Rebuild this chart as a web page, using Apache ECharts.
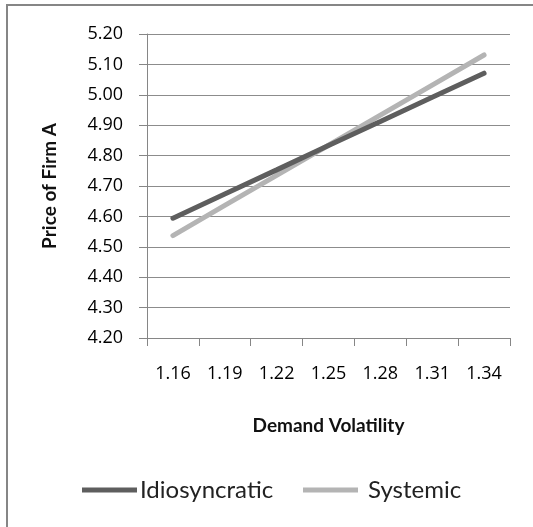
<!DOCTYPE html>
<html>
<head>
<meta charset="utf-8">
<script src="https://cdn.jsdelivr.net/npm/echarts@6/dist/echarts.min.js"></script>
<style>
  html, body { margin: 0; padding: 0; background: #fff; }
  #chart { width: 533px; height: 527px; }
</style>
</head>
<body>
<div id="chart"></div>
<script>
// Demand volatility levels (x categories)
const volatility = ['1.16', '1.19', '1.22', '1.25', '1.28', '1.31', '1.34'];
// Price of firm A under each demand-shock type
const idiosyncratic = [4.594, 4.674, 4.753, 4.833, 4.912, 4.992, 5.071];
const systemic = [4.537, 4.636, 4.735, 4.834, 4.933, 5.032, 5.131];
// Price axis range
const priceMin = 4.2;
const priceMax = 5.2;
const priceStep = 0.1;

const FONT = 'Lato, "Open Sans", sans-serif';
const TICK_FONT = '"Open Sans", Lato, sans-serif';
const chart = echarts.init(document.getElementById('chart'), null, { renderer: 'canvas' });

const legendCommon = {
  top: 478,
  padding: 0,
  itemWidth: 55,
  itemHeight: 5,
  icon: 'rect',
  textStyle: { fontFamily: FONT, fontSize: 24, color: '#222' }
};

chart.setOption({
  backgroundColor: '#fff',
  animation: false,
  graphic: [{
    type: 'rect',
    shape: { x: 7, y: 5, width: 600, height: 600 },
    style: { fill: 'none', stroke: '#868686', lineWidth: 2 },
    silent: true,
    z: 100
  }],
  grid: { left: 147, right: 23, top: 34, bottom: 189, containLabel: false },
  legend: [
    Object.assign({}, legendCommon, {
      left: 82,
      data: ['Idiosyncratic'],
      textStyle: Object.assign({}, legendCommon.textStyle, { padding: [0, 0, 0, -2] })
    }),
    Object.assign({}, legendCommon, {
      left: 303,
      data: ['Systemic'],
      textStyle: Object.assign({}, legendCommon.textStyle, { padding: [0, 0, 0, 5] })
    })
  ],
  xAxis: {
    type: 'category',
    data: volatility,
    boundaryGap: true,
    name: 'Demand Volatility',
    nameLocation: 'middle',
    nameGap: 78,
    nameTextStyle: { fontFamily: FONT, fontSize: 19, fontWeight: 'bold', color: '#111' },
    axisLine: { show: true, lineStyle: { color: '#868686', width: 1 } },
    axisTick: { show: true, length: 8, inside: false, lineStyle: { color: '#868686' } },
    axisLabel: { fontFamily: TICK_FONT, fontSize: 18, color: '#000', margin: 27 },
    splitLine: { show: false }
  },
  yAxis: {
    type: 'value',
    min: priceMin,
    max: priceMax,
    interval: priceStep,
    name: 'Price of Firm A',
    nameLocation: 'middle',
    nameGap: 88,
    nameRotate: 90,
    nameTextStyle: { fontFamily: FONT, fontSize: 19, fontWeight: 'bold', color: '#111' },
    axisLine: { show: true, lineStyle: { color: '#868686', width: 1 } },
    axisTick: { show: true, length: 8, inside: false, lineStyle: { color: '#868686' } },
    axisLabel: {
      fontFamily: TICK_FONT, fontSize: 18, color: '#000', margin: 24,
      formatter: v => v.toFixed(2)
    },
    splitLine: { show: true, lineStyle: { color: '#8c8c8c', width: 1 } }
  },
  series: [
    {
      name: 'Idiosyncratic',
      type: 'line',
      data: idiosyncratic,
      showSymbol: false,
      symbol: 'none',
      color: '#5e5e5e',
      lineStyle: { color: '#5e5e5e', width: 5, cap: 'round' },
      z: 3
    },
    {
      name: 'Systemic',
      type: 'line',
      data: systemic,
      showSymbol: false,
      symbol: 'none',
      color: '#b4b4b4',
      lineStyle: { color: '#b4b4b4', width: 5, cap: 'round' },
      z: 2
    }
  ]
});
</script>
</body>
</html>
